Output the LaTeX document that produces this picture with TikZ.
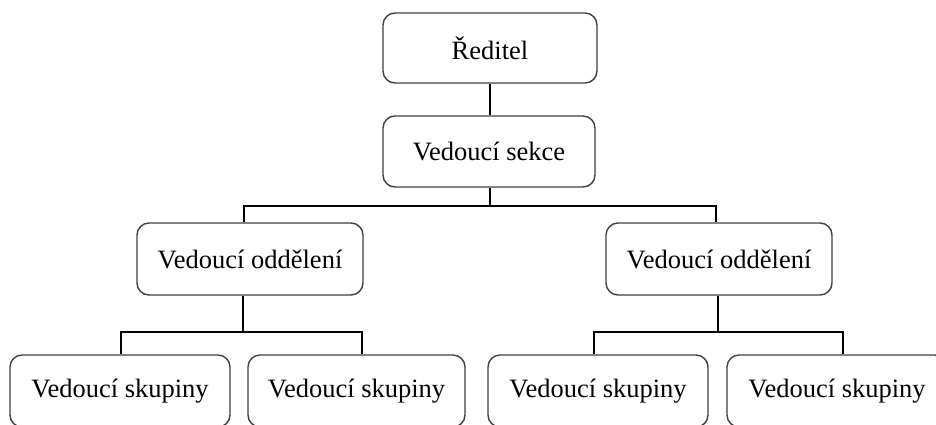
\documentclass[tikz,border=0pt]{standalone}
\usepackage{fontspec}
\setmainfont{Liberation Serif}
\begin{document}
\begin{tikzpicture}[x=1pt,y=-1pt,
  box/.style={draw=black!75, line width=1.4pt, rounded corners=12pt, fill=white,
    inner sep=0pt, font=\fontsize{26.5}{30}\selectfont},
  conn/.style={draw=black, line width=1.3pt}]
\useasboundingbox (0,0) rectangle (936,424);
\clip (0,0) rectangle (936,424);
\node[box, minimum width=214pt, minimum height=70pt] (red) at (490,48) {Ředitel};
\node[box, minimum width=212pt, minimum height=71pt] (sek) at (489,151.5) {Vedoucí sekce};
\node[box, minimum width=226pt, minimum height=72pt] (od1) at (250,259) {Vedoucí oddělení};
\node[box, minimum width=226pt, minimum height=72pt] (od2) at (719,259) {Vedoucí oddělení};
\node[box, minimum width=220pt, minimum height=72pt] (sk1) at (120,391) {Vedoucí skupiny};
\node[box, minimum width=217pt, minimum height=72pt] (sk2) at (356.5,391) {Vedoucí skupiny};
\node[box, minimum width=220pt, minimum height=72pt] (sk3) at (598,391) {Vedoucí skupiny};
\node[box, minimum width=220pt, minimum height=72pt] (sk4) at (837,391) {Vedoucí skupiny};
% connectors
\coordinate (b0) at (490,206);
\draw[conn] (red.south -| b0) -- (sek.north -| b0);
\coordinate (b1) at (244,206);
\coordinate (b2) at (716,206);
\draw[conn] (sek.south -| b0) -- (b0);
\draw[conn] (b1 |- od1.north) -- (b1) -- (b2) -- (b2 |- od2.north);
\coordinate (c1) at (243,332);
\coordinate (c1l) at (121,332);
\coordinate (c1r) at (362,332);
\draw[conn] (od1.south -| c1) -- (c1);
\draw[conn] (c1l |- sk1.north) -- (c1l) -- (c1r) -- (c1r |- sk2.north);
\coordinate (c2) at (718,332);
\coordinate (c2l) at (594,332);
\coordinate (c2r) at (843,332);
\draw[conn] (od2.south -| c2) -- (c2);
\draw[conn] (c2l |- sk3.north) -- (c2l) -- (c2r) -- (c2r |- sk4.north);
\end{tikzpicture}
\end{document}
